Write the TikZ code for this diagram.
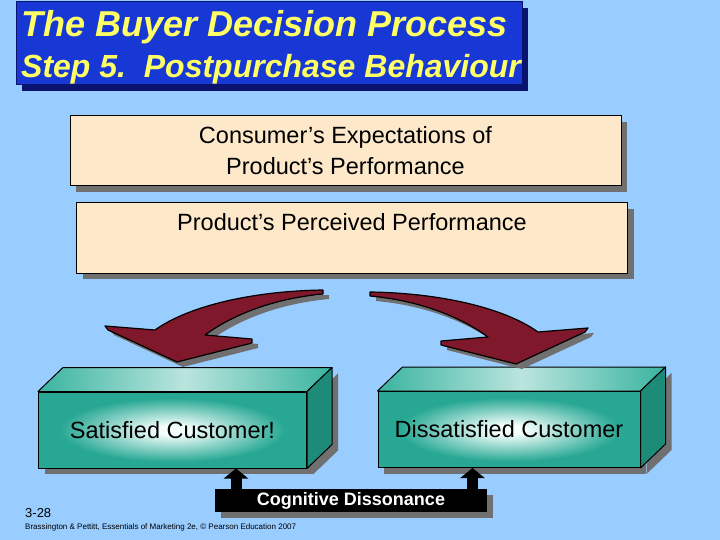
\documentclass[tikz,border=0pt]{standalone}
\usepackage{fontspec}
\setmainfont{Liberation Sans}
\usepackage{tikz}
\usetikzlibrary{shapes,arrows.meta,positioning,calc,shadows}

\definecolor{bgblue}{RGB}{153,204,255}
\definecolor{titleblue}{RGB}{24,56,214}
\definecolor{titlenavy}{RGB}{10,20,110}
\definecolor{titleyellow}{RGB}{255,255,102}
\definecolor{peach}{RGB}{253,232,202}
\definecolor{shadowgrey}{RGB}{112,112,112}
\definecolor{arrowred}{RGB}{128,24,44}
\definecolor{boxteal}{RGB}{40,168,148}
\definecolor{tealtop}{RGB}{58,180,160}
\definecolor{tealside}{RGB}{30,138,120}
\definecolor{glow}{RGB}{244,255,252}

\pgfdeclareradialshading{glowshade}{\pgfpoint{0bp}{0bp}}{color(0bp)=(glow); color(3bp)=(glow); color(21bp)=(boxteal); color(50bp)=(boxteal)}

\newcommand{\bendarrow}{(323,290) .. controls (255,291) and (190,305) .. (155,330) -- (105,326) -- (108,330) -- (177,362) -- (252,343) -- (252,339) -- (205,335) .. controls (228,318) and (268,299) .. (323,294) -- cycle}

\begin{document}
\begin{tikzpicture}[x=1pt, y=-1pt,
    castshadow/.style={drop shadow={shadow xshift=6pt, shadow yshift=-6pt, fill=shadowgrey, opacity=1}},
    titlebox/.style={rectangle, draw=titlenavy, line width=1pt, fill=titleblue, minimum width=506pt, minimum height=83pt, drop shadow={shadow xshift=6pt, shadow yshift=-6pt, fill=titlenavy, opacity=1}},
    titletext/.style={anchor=base west, inner sep=0pt, text=titleyellow},
    peachbox/.style={rectangle, draw, line width=1pt, fill=peach, minimum width=551pt, minimum height=70pt, align=center, font=\fontsize{23.5}{31}\selectfont, castshadow},
    front/.style={rectangle, draw, line width=1pt, shading=glowshade, minimum height=76pt, font=\fontsize{23.5}{28}\selectfont, castshadow},
    topface/.style={draw, line width=1pt, line join=round, left color=tealtop, right color=tealtop, middle color=tealtop!35!white},
    sideface/.style={draw, line width=1pt, line join=round, fill=tealside, castshadow},
    cogbox/.style={rectangle, fill=black, text=white, minimum width=272pt, minimum height=23pt, font=\bfseries\fontsize{18}{20}\selectfont, castshadow},
    uparrow/.style={line width=11pt, -{Triangle[width=24pt,length=10pt]}},
    bendshape/.style={fill=arrowred, draw, line width=1.2pt, line join=round}
  ]
    \fill[bgblue] (0,0) rectangle (720,540);
    \useasboundingbox (0,0) rectangle (720,540);

    \node[titlebox] (title) at (269,43.5) {};
    \node[titletext, font=\bfseries\itshape\fontsize{36}{40}\selectfont] (titleone) at (21,37) {The Buyer Decision Process};
    \node[titletext, font=\bfseries\itshape\fontsize{32}{36}\selectfont] (titletwo) at (21,77.5) {Step 5.~~Postpurchase Behaviour};

    \node[peachbox] (expect) at (345.5,151) {Consumer's Expectations of\\Product's Performance};
    \node[peachbox] (perceived) at (352,238) {};
    \node[font=\fontsize{23.5}{28}\selectfont, below=7pt of perceived.north] (perceivedtext) {Product's Perceived Performance};

    \node[front, minimum width=268pt] (sat) at (172.5,430) {Satisfied Customer!};
    \node[front, minimum width=262pt] (dissat) at (509,429.5) {Dissatisfied Customer};
    \foreach \b in {sat,dissat} {
      \path[topface] (\b.north west) -- ++(25,-24) -- ($(\b.north east)+(25,-24)$) -- (\b.north east) -- cycle;
      \path[sideface] (\b.north east) -- ++(25,-24) -- ($(\b.south east)+(25,-24)$) -- (\b.south east) -- cycle;
    }

    \foreach \f/\dx/\dy in {1/0/0,-1/693/2} {
      \fill[shadowgrey, shift={(6,5)}, shift={(\dx,\dy)}, xscale=\f] \bendarrow;
      \path[bendshape, shift={(\dx,\dy)}, xscale=\f] \bendarrow;
    }

    \node[cogbox] (cog) at (351,500.5) {Cognitive Dissonance};
    \coordinate (satfoot) at ([xshift=-71pt]sat.south east);
    \coordinate (dissatfoot) at ([xshift=95pt]dissat.south west);
    \draw[uparrow] (cog.north -| satfoot) -- (satfoot);
    \draw[uparrow] (cog.north -| dissatfoot) -- (dissatfoot);

    \node[anchor=west, inner sep=0pt, font=\fontsize{13}{15}\selectfont] (slideno) at (25,513) {3-28};
    \node[anchor=west, inner sep=0pt, font=\fontsize{8}{9}\selectfont] (credit) at (25,527) {Brassington \& Pettitt, Essentials of Marketing 2e, © Pearson Education 2007};
  \end{tikzpicture}
\end{document}
